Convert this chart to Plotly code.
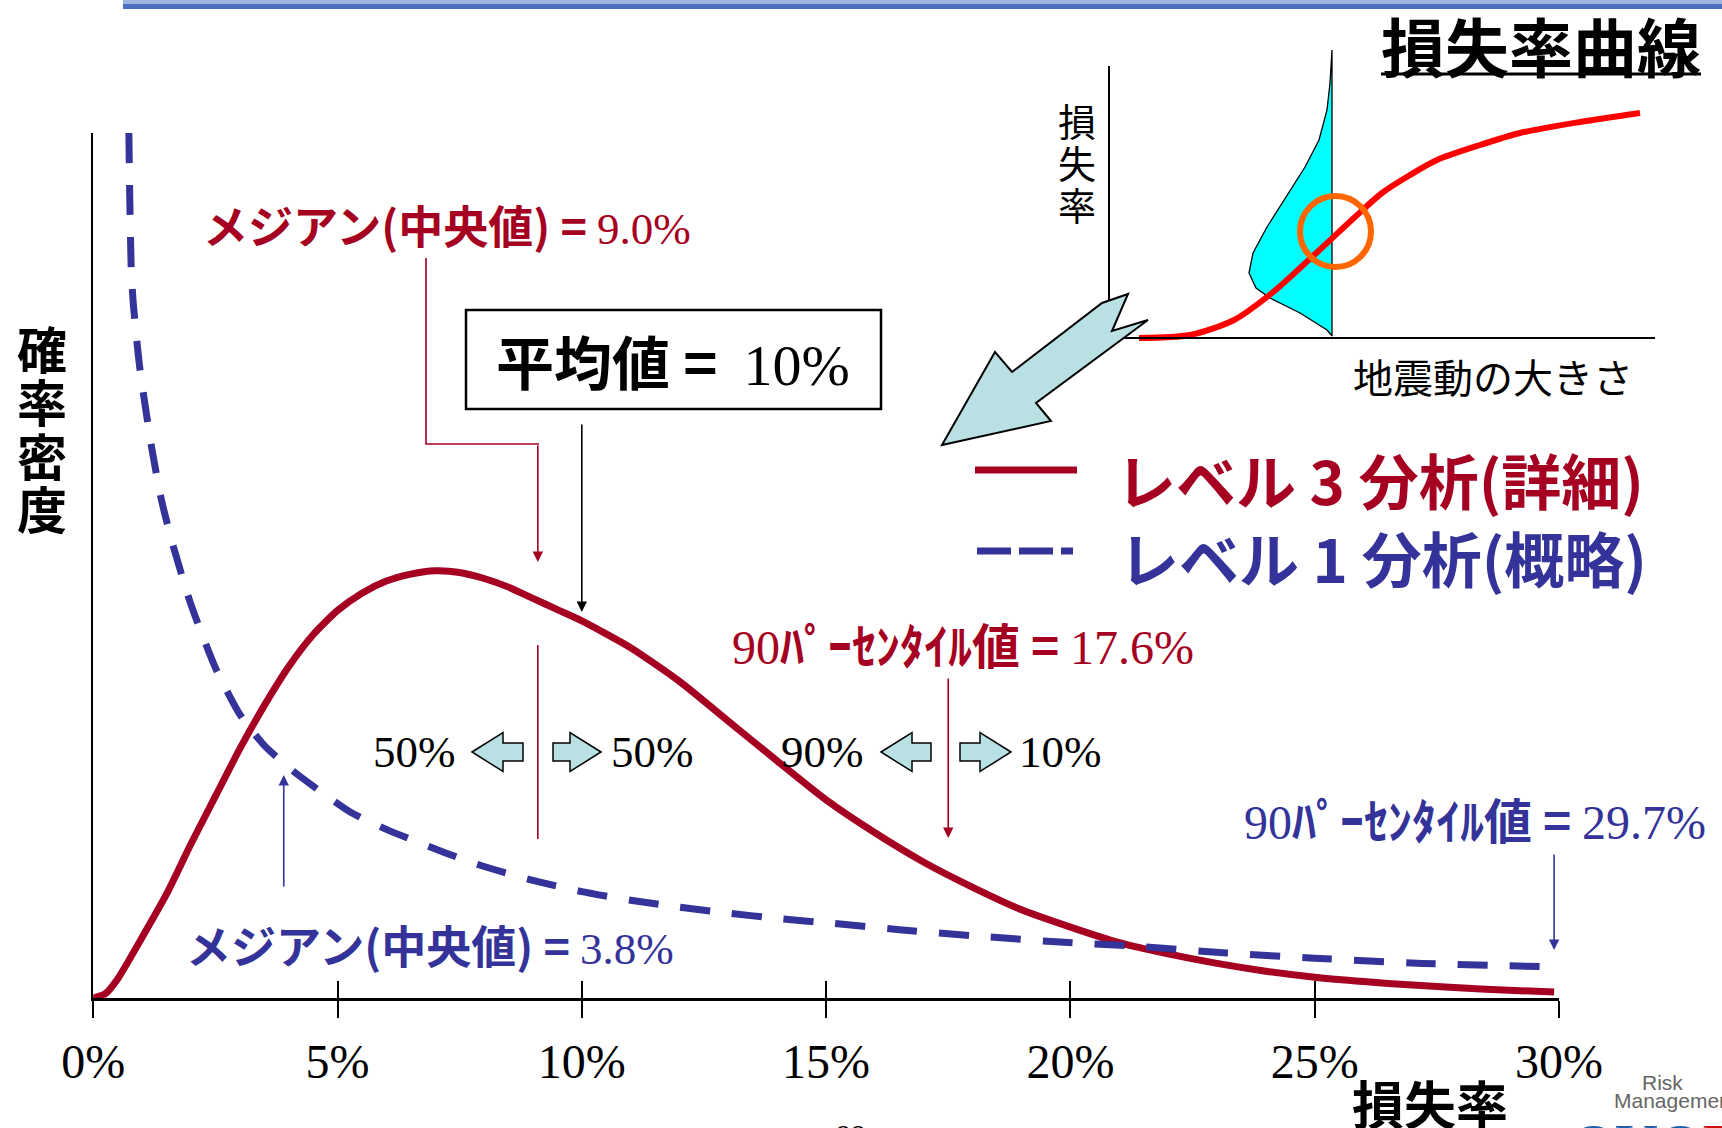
import plotly.graph_objects as go

# ---------------- data ----------------
# Level 3 analysis (detailed) loss-ratio density, x in %, y in relative density units
red_x = [0, 0.25, 0.5, 1.0, 1.5, 2.0, 2.5, 3.0, 3.5, 4.0, 4.5, 5.0, 5.5, 6.0, 6.5, 7.0,
         7.5, 8.0, 8.5, 9.0, 9.5, 10.0, 11.0, 12.0, 13.0, 14.0, 15.0, 16.0, 17.0, 18.0,
         19.0, 20.0, 21.0, 22.0, 23.0, 24.0, 25.0, 26.0, 27.0, 28.5, 29.9]
red_y = [0, 0.05, 0.22, 0.70, 1.20, 1.78, 2.33, 2.88, 3.38, 3.83, 4.20, 4.48, 4.68, 4.82,
         4.90, 4.94, 4.92, 4.85, 4.75, 4.62, 4.49, 4.36, 4.05, 3.66, 3.20, 2.74, 2.29, 1.91,
         1.57, 1.28, 1.02, 0.82, 0.64, 0.51, 0.40, 0.31, 0.24, 0.19, 0.15, 0.10, 0.07]

# Level 1 analysis (rough)
blue_x = [0.73, 0.75, 0.78, 0.82, 0.95, 1.2, 1.4, 1.64, 2.0, 2.5, 3.0, 3.5, 4.1, 5.26,
          6.0, 7.2, 8.0, 9.0, 10.0, 11.0, 12.0, 13.0, 14.0, 15.0, 16.5, 18.0, 19.7, 21.3,
          23.2, 25.0, 27.2, 29.8]
blue_y = [10.0, 9.2, 8.4, 8.03, 7.3, 6.35, 5.75, 5.22, 4.55, 3.82, 3.28, 2.92, 2.62, 2.15,
          1.95, 1.68, 1.52, 1.36, 1.23, 1.13, 1.05, 0.98, 0.92, 0.87, 0.79, 0.72, 0.65, 0.60,
          0.52, 0.46, 0.40, 0.36]

tick_vals = [0, 5, 10, 15, 20, 25, 30]
tick_text = ["0%", "5%", "10%", "15%", "20%", "25%", "30%"]

# marker positions on the loss-ratio axis (%)
median_l3 = 9.1
mean_l3 = 10.0
p90_l3 = 17.5
median_l1 = 3.9
p90_l1 = 29.9

# inset illustration (pixel space)
inset_curve_x = [1139, 1190, 1234, 1272, 1300, 1327, 1355, 1382, 1410, 1437, 1480, 1520, 1580, 1640]
inset_curve_y = [338, 335, 320, 293, 268, 243, 217, 193, 175, 160, 145, 133, 122, 113]
dist_x = [1332, 1330, 1327, 1319, 1305, 1286, 1267, 1253, 1249, 1256, 1270, 1300, 1327, 1332, 1332]
dist_y = [50, 83, 110, 140, 167, 197, 227, 253, 273, 288, 298, 313, 330, 336, 50]

W, H = 1722, 1128
RED = "#a50021"
BLUE = "#333399"
JP = "Noto Sans CJK JP"
SERIF = "Liberation Serif"


def S(t):
    return f'<span style="font-family:{SERIF};font-weight:normal">{t}</span>'


fig = go.Figure()

# main curves
fig.add_trace(go.Scatter(x=red_x, y=red_y, mode="lines", xaxis="x", yaxis="y",
                         line=dict(color=RED, width=7, shape="spline", smoothing=0.6),
                         hoverinfo="skip", showlegend=False))
fig.add_trace(go.Scatter(x=blue_x, y=blue_y, mode="lines", xaxis="x", yaxis="y",
                         line=dict(color=BLUE, width=7, dash="30px,22px", shape="spline", smoothing=0.6),
                         hoverinfo="skip", showlegend=False))
# dummy trace for inside-tick overlay axis
fig.add_trace(go.Scatter(x=[0], y=[0], xaxis="x3", yaxis="y", mode="markers",
                         marker=dict(opacity=0), hoverinfo="skip", showlegend=False))

# inset illustration
fig.add_trace(go.Scatter(x=dist_x, y=dist_y, xaxis="x2", yaxis="y2", mode="lines",
                         fill="toself", fillcolor="#00ffff", line=dict(color="black", width=1.3),
                         hoverinfo="skip", showlegend=False))
fig.add_trace(go.Scatter(x=inset_curve_x, y=inset_curve_y, xaxis="x2", yaxis="y2", mode="lines",
                         line=dict(color="#ff0000", width=6, shape="spline", smoothing=0.8),
                         hoverinfo="skip", showlegend=False))

x0px, x1px, ytop, ybot = 93.2, 1559.0, 133.0, 998.0

shapes = []
# top banner
shapes.append(dict(type="rect", xref="x2", yref="y2", x0=123, x1=W, y0=0, y1=4,
                   fillcolor="#9db3df", line=dict(width=0)))
shapes.append(dict(type="rect", xref="x2", yref="y2", x0=123, x1=W, y0=4, y1=9,
                   fillcolor="#4b6fc0", line=dict(width=0)))
# title underline
shapes.append(dict(type="line", xref="x2", yref="y2", x0=1381, x1=1701, y0=74, y1=74,
                   line=dict(color="black", width=3)))
# inset axes
shapes.append(dict(type="line", xref="x2", yref="y2", x0=1109, x1=1109, y0=66, y1=338,
                   line=dict(color="black", width=2)))
shapes.append(dict(type="line", xref="x2", yref="y2", x0=1109, x1=1655, y0=338, y1=338,
                   line=dict(color="black", width=2)))
# orange ring
shapes.append(dict(type="circle", xref="x2", yref="y2", x0=1300, x1=1371, y0=196, y1=267,
                   line=dict(color="#ff6600", width=6)))
# big light-blue arrow
shapes.append(dict(type="path", xref="x2", yref="y2",
                   path="M 942,445 L 995,352 L 1012,372 L 1102,303 L 1128,294 L 1112,331 "
                        "L 1148,320 L 1036,403 L 1051,421 Z",
                   fillcolor="#b9e0e3", line=dict(color="black", width=2)))
# box for mean
shapes.append(dict(type="rect", xref="x2", yref="y2", x0=466, x1=881, y0=310, y1=409,
                   line=dict(color="black", width=2.5), fillcolor="rgba(0,0,0,0)"))
# red bracket from median label
shapes.append(dict(type="path", xref="x2", yref="y2",
                   path="M 426,258 L 426,444 L 539,444",
                   line=dict(color=RED, width=1.6)))
# red median line
shapes.append(dict(type="line", xref="x", yref="y2", x0=median_l3, x1=median_l3, y0=645, y1=839,
                   line=dict(color=RED, width=1.6)))
# legend samples
shapes.append(dict(type="line", xref="x2", yref="y2", x0=975, x1=1077, y0=470, y1=470,
                   line=dict(color=RED, width=7)))
shapes.append(dict(type="line", xref="x2", yref="y2", x0=977, x1=1073, y0=551, y1=551,
                   line=dict(color=BLUE, width=7, dash="34px,8px")))


def hollow_arrow(xl, xr, yc, direction):
    head = 31
    hh, sh = 19.5, 9
    if direction == "left":
        xb = xl + head
        p = (f"M {xl},{yc} L {xb},{yc-hh} L {xb},{yc-sh} L {xr},{yc-sh} L {xr},{yc+sh} "
             f"L {xb},{yc+sh} L {xb},{yc+hh} Z")
    else:
        xb = xr - head
        p = (f"M {xr},{yc} L {xb},{yc-hh} L {xb},{yc-sh} L {xl},{yc-sh} L {xl},{yc+sh} "
             f"L {xb},{yc+sh} L {xb},{yc+hh} Z")
    return dict(type="path", xref="x2", yref="y2", path=p, fillcolor="#b9e0e3",
                line=dict(color="black", width=1.5))


shapes.append(hollow_arrow(472, 523, 752, "left"))
shapes.append(hollow_arrow(553, 601, 752, "right"))
shapes.append(hollow_arrow(881, 931, 752, "left"))
shapes.append(hollow_arrow(960, 1011, 752, "right"))

ann = []


def txt(text, x, y, size, color="black", xanchor="center", yanchor="middle", family=JP,
        xref="x2", weight="normal"):
    ann.append(dict(text=text, x=x, y=y, xref=xref, yref="y2", showarrow=False,
                    font=dict(family=family, size=size, color=color, weight=weight),
                    xanchor=xanchor, yanchor=yanchor))


def arr(x, y0, y1, color, xref="x"):
    ann.append(dict(text="", x=x, y=y1, ax=x, ay=y0, xref=xref, yref="y2", axref=xref, ayref="y2",
                    showarrow=True, arrowhead=2, arrowsize=1.3, arrowwidth=1.6, arrowcolor=color))


# title and inset labels
txt("<b>損失率曲線</b>", 1541, 44, 64)
for ch, yy in zip("損失率", [119, 161, 203]):
    txt(ch, 1077, yy, 38)
txt("地震動の大きさ", 1493, 376, 40)

# axis titles
for ch, yy in zip("確率密度", [347, 400, 454, 507]):
    txt(f"<b>{ch}</b>", 42, yy, 50)
txt("<b>損失率</b>", 1430, 1102, 52)

# legend texts
txt("<b>レベル 3 分析(詳細)</b>", 1114, 478, 60, color=RED, xanchor="left")
txt("<b>レベル 1 分析(概略)</b>", 1117, 556, 60, color=BLUE, xanchor="left")

# mean box
txt("<b>平均値 =</b>  " + S("10%"), 673, 360, 58)

# annotations
txt("<b>メジアン(中央値) =</b> " + S("9.0%"), 447, 224, 45, color=RED)
txt(S("90") + "<b>ﾊﾟｰｾﾝﾀｲﾙ値 =</b> " + S("17.6%"), 963, 643, 48, color=RED)
txt(S("90") + "<b>ﾊﾟｰｾﾝﾀｲﾙ値 =</b> " + S("29.7%"), 1475, 818, 48, color=BLUE)
txt("<b>メジアン(中央値) =</b> " + S("3.8%"), 430, 944, 45, color=BLUE)

# 50% / 90% / 10% labels
for t, xx in [("50%", 414), ("50%", 652), ("90%", 822), ("10%", 1060)]:
    txt(t, xx, 752, 45, family=SERIF)

# arrows
arr(mean_l3, 423, 612, "black")
arr(median_l3, 444, 562, RED)
arr(p90_l3, 677, 838, RED)
arr(p90_l1, 853, 950, BLUE)
arr(median_l1, 888, 775, BLUE)

# footer bits
txt("99", 851, 1116, 30, family=SERIF, yanchor="top")
txt("Risk", 1662, 1082, 21, color="#666666", family="Liberation Sans Narrow, Liberation Sans")
txt("Management", 1612, 1100, 21, color="#666666", xanchor="left",
    family="Liberation Sans Narrow, Liberation Sans")
txt('<span style="color:#1f5fae">OYO</span><span style="color:#cc1111">RM</span>',
    1570, 1110, 60, family=SERIF, xanchor="left", yanchor="top")

fig.update_layout(
    width=W, height=H,
    margin=dict(l=0, r=0, t=0, b=0, autoexpand=False),
    paper_bgcolor="white", plot_bgcolor="rgba(0,0,0,0)",
    showlegend=False,
    xaxis=dict(domain=[x0px / W, x1px / W], range=[0, 30], anchor="y",
               showgrid=False, zeroline=False, showline=True, linecolor="black", linewidth=2.5,
               ticks="outside", ticklen=17, tickwidth=2, tickcolor="black",
               tickvals=tick_vals, ticktext=tick_text, ticklabelstandoff=3,
               tickfont=dict(family=SERIF, size=48, color="black")),
    xaxis3=dict(domain=[x0px / W, x1px / W], range=[0, 30], anchor="y", overlaying="x",
                showgrid=False, zeroline=False, showline=False,
                ticks="inside", ticklen=17, tickwidth=2, tickcolor="black",
                tickvals=tick_vals, showticklabels=False),
    yaxis=dict(domain=[1 - ybot / H, 1 - ytop / H], range=[0, 10], anchor="x",
               showgrid=False, zeroline=False, showline=True, linecolor="black", linewidth=2,
               ticks="", showticklabels=False),
    xaxis2=dict(domain=[0, 1], range=[0, W], anchor="y2", visible=False),
    yaxis2=dict(domain=[0, 1], range=[H, 0], anchor="x2", visible=False),
    shapes=shapes,
    annotations=ann,
)

fig.write_html("out.html")
